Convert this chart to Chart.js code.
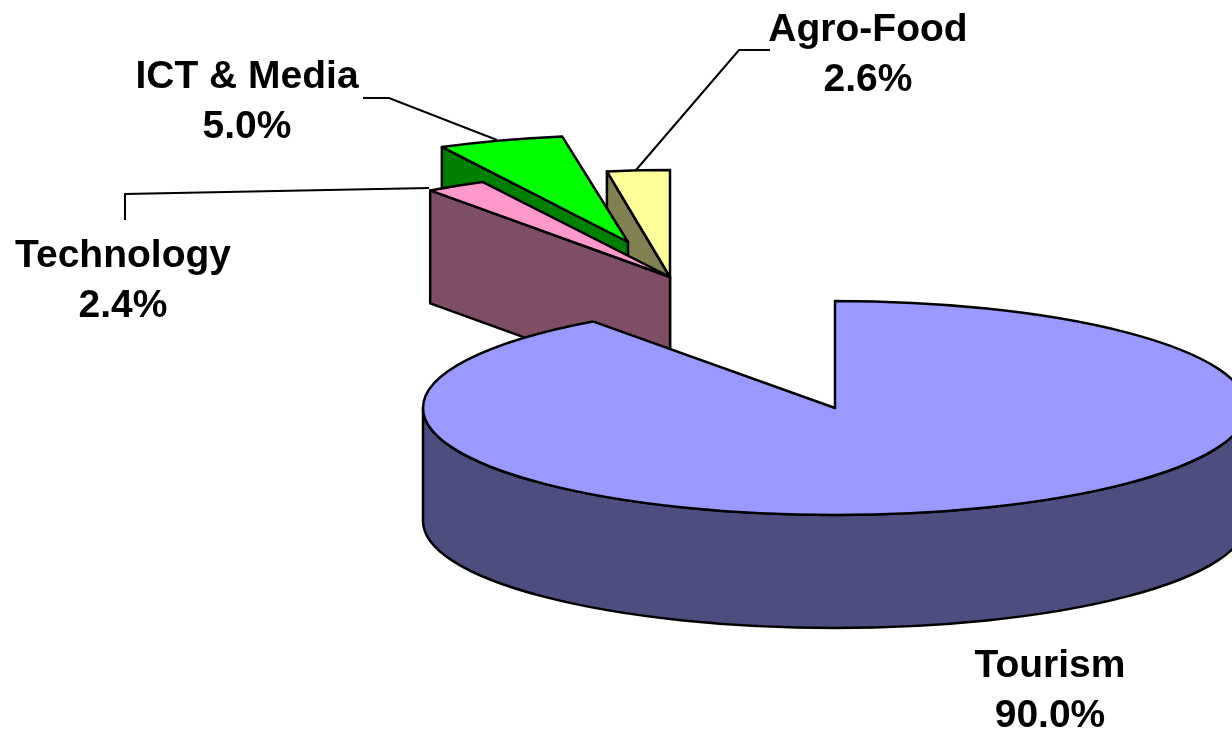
<!DOCTYPE html>
<html>
<head>
<meta charset="utf-8">
<style>
  html, body { margin: 0; padding: 0; background: #fff; overflow: hidden; }
  canvas { display: block; }
</style>
<script src="https://cdn.jsdelivr.net/npm/chart.js@4/dist/chart.umd.min.js"></script>
</head>
<body>
<canvas id="pie_chart" width="1232" height="729"></canvas>
<script>
// data, clockwise from 12 o'clock
var categories = ['Tourism', 'Technology', 'ICT & Media', 'Agro-Food'];
var shares = [90.0, 2.4, 5.0, 2.6];
var topColors = ['#9999FF', '#FF99CC', '#00FF00', '#FFFF99'];
var wallColors = ['#4D4D80', '#804D66', '#008000', '#808050'];

// 3d look: tilted ellipse size, wall height and where each exploded slice sits
var radiiX = [412, 408, 405, 388];
var radiusY = 107;
var depth = 113;
var centersX = [835, 670, 628, 670];
var centersY = [408, 277, 242, 277];

// labels: centre x, first baseline y
var labelX = [1050, 123, 247, 868];
var labelY = [677, 267, 88, 41];
var lineGap = 50;
var leaders = [
    null,
    [[125, 220], [125, 194], [429, 188]],
    [[363, 98], [389, 98], [497, 140]],
    [[770, 50], [739, 50], [636, 170]]
];

var pie3d = {
    id: 'pie3d',
    beforeDatasetDraw: function(chart, args) {
        var ctx = chart.ctx;
        var arcs = chart.getDatasetMeta(args.index).data;
        ctx.save();
        ctx.lineWidth = 2.5;
        ctx.lineJoin = 'round';
        ctx.strokeStyle = '#000';
        // back slices first, tourism goes on top
        for (var i = arcs.length - 1; i >= 0; i--) {
            drawWalls(ctx, arcs[i], i);
            drawTop(ctx, arcs[i], i);
        }
        ctx.restore();
        return false;
    },
    afterDraw: function(chart) {
        var ctx = chart.ctx;
        ctx.save();
        ctx.lineWidth = 2;
        ctx.strokeStyle = '#000';
        ctx.fillStyle = '#000';
        ctx.font = 'bold 39px "Liberation Sans"';
        ctx.textAlign = 'center';
        categories.forEach(function(name, i) {
            if (leaders[i]) {
                ctx.beginPath();
                leaders[i].forEach(function(p, k) {
                    if (k == 0) ctx.moveTo(p[0], p[1]);
                    else ctx.lineTo(p[0], p[1]);
                });
                ctx.stroke();
            }
            ctx.fillText(name, labelX[i], labelY[i]);
            ctx.fillText(shares[i].toFixed(1) + '%', labelX[i], labelY[i] + lineGap);
        });
        ctx.restore();
    }
};

function drawWalls(ctx, arc, i) {
    var cx = centersX[i], cy = centersY[i];
    ctx.fillStyle = wallColors[i];
    // cut edge that faces the viewer
    if (Math.cos(arc.startAngle) < 0) {
        var ex = cx + radiiX[i] * Math.cos(arc.startAngle);
        var ey = cy + radiusY * Math.sin(arc.startAngle);
        ctx.beginPath();
        ctx.moveTo(cx, cy);
        ctx.lineTo(ex, ey);
        ctx.lineTo(ex, ey + depth);
        ctx.lineTo(cx, cy + depth);
        ctx.closePath();
        ctx.fill();
        ctx.stroke();
    }
    // round edge, only the front half shows
    var from = Math.max(arc.startAngle, 0);
    var to = Math.min(arc.endAngle, Math.PI);
    if (to > from) {
        ctx.beginPath();
        ctx.ellipse(cx, cy, radiiX[i], radiusY, 0, from, to);
        ctx.ellipse(cx, cy + depth, radiiX[i], radiusY, 0, to, from, true);
        ctx.closePath();
        ctx.fill();
        ctx.stroke();
    }
}

function drawTop(ctx, arc, i) {
    var cx = centersX[i], cy = centersY[i];
    // fill comes from the chart's own arc, squashed into the ellipse
    ctx.save();
    ctx.translate(cx, cy);
    ctx.scale(radiiX[i] / arc.outerRadius, radiusY / arc.outerRadius);
    ctx.translate(-arc.x, -arc.y);
    arc.draw(ctx);
    ctx.restore();
    // outline separately so the line width stays even
    ctx.beginPath();
    ctx.moveTo(cx, cy);
    ctx.ellipse(cx, cy, radiiX[i], radiusY, 0, arc.startAngle, arc.endAngle);
    ctx.closePath();
    ctx.stroke();
}

var ctx = document.getElementById('pie_chart').getContext('2d');
var myPieChart = new Chart(ctx, {
    type: 'pie',
    data: {
        labels: categories,
        datasets: [{
            data: shares,
            backgroundColor: topColors,
            borderWidth: 0
        }]
    },
    options: {
        responsive: false,
        animation: false,
        plugins: {
            legend: { display: false },
            tooltip: { enabled: false }
        }
    },
    plugins: [pie3d]
});
</script>
</body>
</html>
